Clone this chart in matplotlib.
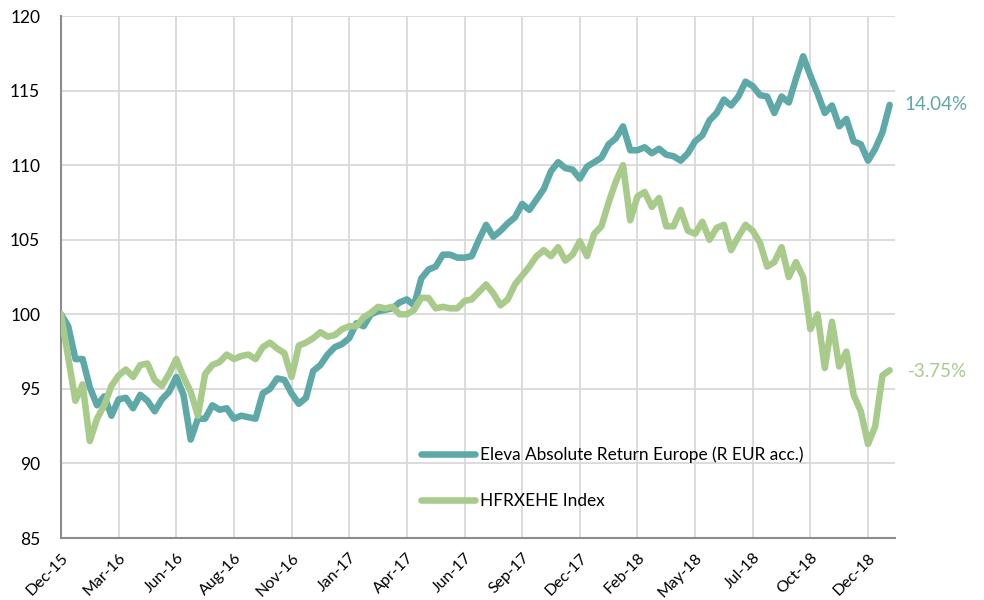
import matplotlib
matplotlib.use("Agg")
import matplotlib.pyplot as plt
import numpy as np

# weekly-ish index values
eleva = [100.0, 99.2, 97.0, 97.0, 95.1, 93.9, 94.5, 93.2, 94.3, 94.4,
         93.7, 94.6, 94.2, 93.5, 94.3, 94.8, 95.8, 94.6, 91.6, 93.0,
         93.0, 93.9, 93.6, 93.7, 93.0, 93.2, 93.1, 93.0, 94.7, 95.0,
         95.7, 95.6, 94.7, 94.0, 94.4, 96.2, 96.6, 97.3, 97.8, 98.0,
         98.4, 99.4, 99.2, 100.0, 100.2, 100.3, 100.4, 100.8, 101.0, 100.6,
         102.4, 103.0, 103.2, 104.0, 104.0, 103.8, 103.8, 103.9, 105.0, 106.0,
         105.2, 105.6, 106.1, 106.5, 107.4, 107.0, 107.7, 108.4, 109.6, 110.2,
         109.8, 109.7, 109.1, 109.9, 110.2, 110.5, 111.4, 111.8, 112.6, 111.0,
         111.0, 111.2, 110.8, 111.1, 110.7, 110.6, 110.3, 110.8, 111.6, 112.0,
         113.0, 113.5, 114.4, 114.0, 114.6, 115.6, 115.3, 114.7, 114.6, 113.5,
         114.6, 114.2, 115.8, 117.3, 116.0, 114.8, 113.5, 114.0, 112.6, 113.1,
         111.6, 111.4, 110.3, 111.1, 112.2, 114.04]

hfrx = [100.0, 97.1, 94.2, 95.3, 91.5, 93.0, 93.9, 95.2, 95.9, 96.3,
        95.8, 96.6, 96.7, 95.6, 95.2, 96.0, 97.0, 95.8, 94.8, 93.2,
        96.0, 96.6, 96.8, 97.3, 97.0, 97.2, 97.3, 97.0, 97.8, 98.1,
        97.7, 97.4, 95.8, 97.9, 98.1, 98.4, 98.8, 98.5, 98.6, 99.0,
        99.2, 99.2, 99.8, 100.1, 100.5, 100.4, 100.5, 100.0, 100.0, 100.3,
        101.1, 101.1, 100.4, 100.5, 100.4, 100.4, 100.9, 101.0, 101.5, 102.0,
        101.4, 100.6, 101.0, 102.0, 102.6, 103.2, 103.9, 104.3, 103.9, 104.5,
        103.6, 104.0, 104.9, 103.9, 105.4, 105.9, 107.5, 108.9, 110.0, 106.3,
        107.9, 108.2, 107.2, 107.8, 105.9, 105.9, 107.0, 105.6, 105.4, 106.2,
        105.0, 105.8, 106.0, 104.3, 105.2, 106.0, 105.6, 104.8, 103.2, 103.5,
        104.5, 102.5, 103.5, 102.5, 99.0, 100.0, 96.4, 99.5, 96.5, 97.5,
        94.6, 93.5, 91.3, 92.5, 95.9, 96.25]

tick_labels = ["Dec-15", "Mar-16", "Jun-16", "Aug-16", "Nov-16", "Jan-17", "Apr-17",
               "Jun-17", "Sep-17", "Dec-17", "Feb-18", "May-18", "Jul-18", "Oct-18", "Dec-18"]
tick_step = 8

eleva_label = "Eleva Absolute Return Europe (R EUR acc.)"
hfrx_label = "HFRXEHE Index"
eleva_perf = "14.04%"
hfrx_perf = "-3.75%"

teal = "#5EA9A7"
green = "#A8CB8C"

plt.rcParams['font.family'] = ['Lato', 'DejaVu Sans']

fig = plt.figure(figsize=(9.84, 6), dpi=100)
ax = fig.add_axes([0.062, 0.1033, 0.8476, 0.87])

x = np.arange(len(eleva))
ax.plot(x, eleva, color=teal, lw=4.7, solid_joinstyle='round', solid_capstyle='round',
        label=eleva_label, zorder=3)
ax.plot(x, hfrx, color=green, lw=4.7, solid_joinstyle='round', solid_capstyle='round',
        label=hfrx_label, zorder=4)

ax.set_xlim(0, 115.75)
ax.set_ylim(85, 120)
ax.set_yticks(np.arange(85, 121, 5))
ax.set_xticks(np.arange(len(tick_labels)) * tick_step)
ax.set_xticklabels(tick_labels, rotation=45, ha='right', va='top', rotation_mode='anchor')

ax.grid(True, color='#D9D9D9', lw=1.3)
ax.set_axisbelow(True)
for s in ['top', 'right']:
    ax.spines[s].set_visible(False)
for s in ['left', 'bottom']:
    ax.spines[s].set_color('#8C8C8C')
    ax.spines[s].set_linewidth(1.5)
ax.tick_params(axis='y', length=0, labelsize=12.5, colors='black', pad=15)
ax.tick_params(axis='x', length=0, labelsize=11.5, colors='black', pad=9)

ax.annotate(eleva_perf, (x[-1], eleva[-1]), xytext=(11, 0), textcoords='offset points',
            color=teal, fontsize=13.5, va='center', ha='left', annotation_clip=False)
ax.annotate(hfrx_perf, (x[-1], hfrx[-1]), xytext=(13, -1), textcoords='offset points',
            color=green, fontsize=13.5, va='center', ha='left', annotation_clip=False)

leg = ax.legend(loc='upper left', bbox_to_anchor=(0.432, 0.175), frameon=False,
                fontsize=12.4, handlelength=3.1, handletextpad=0.3, labelspacing=1.75,
                borderaxespad=0, borderpad=0)
for line in leg.get_lines():
    line.set_linewidth(4.7)

fig.savefig("out.png", dpi=100)
